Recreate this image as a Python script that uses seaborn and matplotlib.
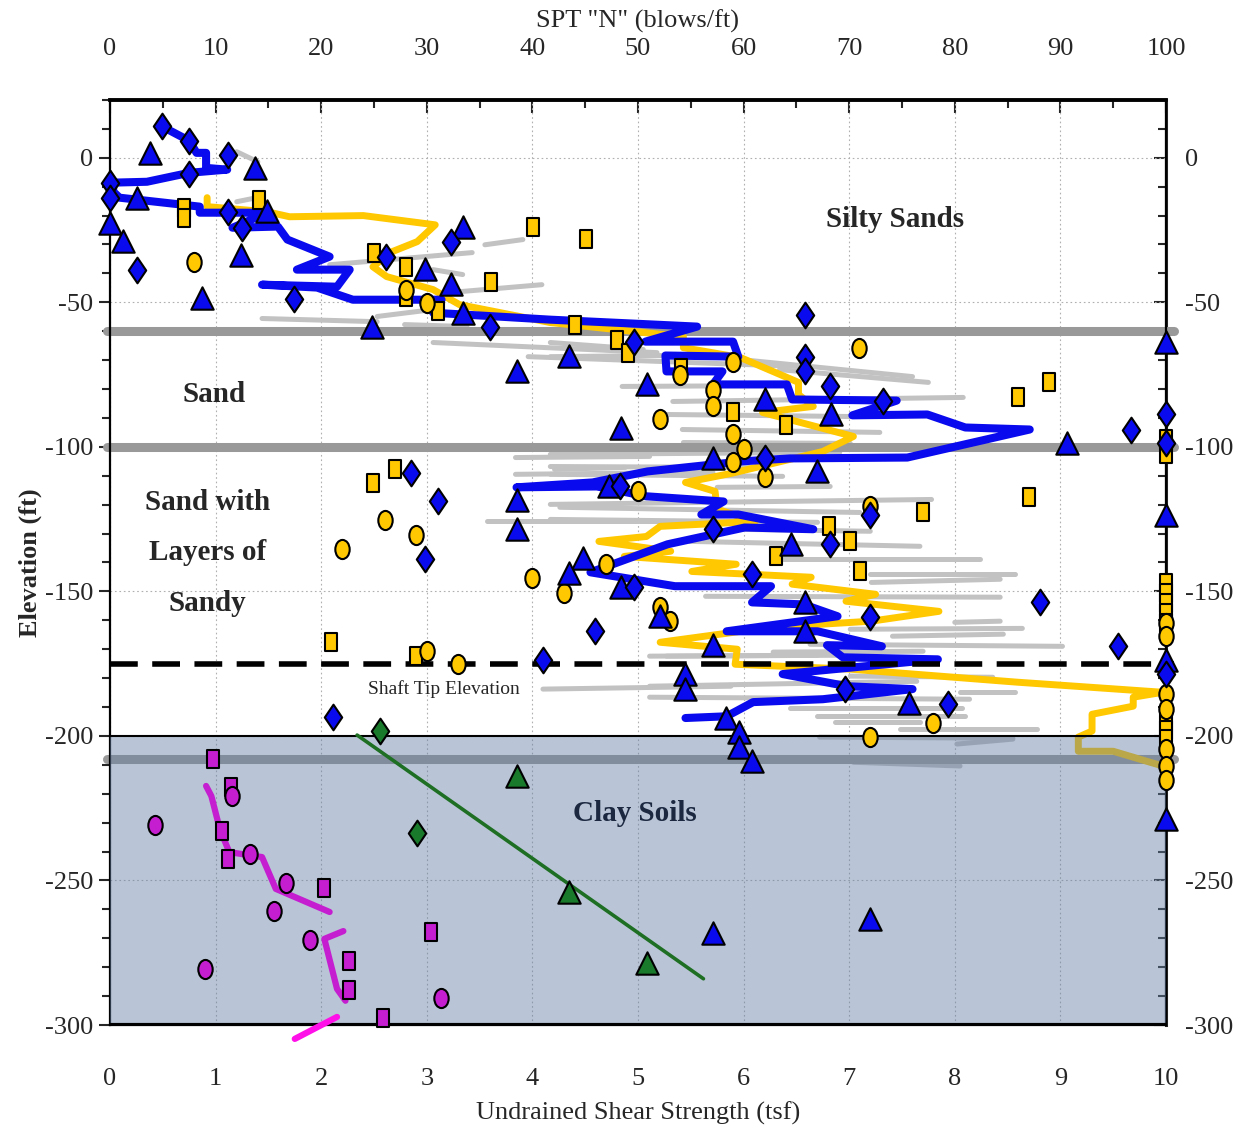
import numpy as np
import pandas as pd
import matplotlib
matplotlib.use("Agg")
import matplotlib.pyplot as plt
import seaborn as sns
from matplotlib.path import Path
from matplotlib.transforms import Affine2D
from matplotlib.ticker import MultipleLocator

# ---------------- data (x: undrained shear strength tsf ; y: elevation ft) -------------
blue_dia_x = [0.49, 0.75, 1.12, 0.75, 0.0, 0.0, 1.12, 1.25, 3.23, 2.61, 0.26, 1.74, 3.60, 6.58, 4.96,
              6.58, 6.58, 6.82, 7.32, 6.20, 2.85, 4.83, 3.11, 7.20, 5.71, 6.82, 2.98, 6.08, 4.96, 8.81,
              7.20, 4.59, 9.55, 4.10, 6.96, 7.94, 2.11, 9.67, 10.0, 10.0, 10.0]
blue_dia_y = [11.1, 5.9, 1.0, -5.5, -8.6, -13.8, -18.7, -24.2, -29.0, -34.2, -38.7, -48.7, -58.7, -54.3, -63.6,
              -68.8, -73.9, -78.8, -84.0, -104.0, -109.2, -113.7, -118.9, -123.7, -128.5, -133.7, -138.9, -144.1, -148.6, -153.8,
              -158.9, -163.8, -169.0, -173.8, -183.8, -189.0, -193.5, -94.0, -88.8, -98.8, -178.6]

blue_tri_x = [0.38, 1.37, 0.26, 1.49, 0.0, 0.12, 1.24, 0.87, 3.34, 2.98, 3.23, 3.34, 2.48, 4.35, 3.85,
              5.09, 6.20, 4.84, 6.83, 5.71, 6.70, 4.73, 3.85, 3.85, 6.45, 4.48, 4.35, 4.84, 6.58, 5.21,
              6.58, 5.71, 5.45, 5.45, 7.57, 5.83, 5.96, 5.96, 6.08, 9.06, 10.0, 10.0, 10.0, 10.0, 5.71, 7.20]
blue_tri_y = [1.7, -3.5, -13.8, -18.3, -22.5, -28.7, -33.5, -48.4, -23.8, -38.4, -43.5, -53.6, -58.4, -68.4, -73.6,
              -78.4, -83.3, -93.6, -88.8, -103.7, -108.5, -113.7, -118.5, -128.5, -133.7, -138.6, -143.7, -148.6, -153.8, -158.6,
              -163.8, -168.6, -178.6, -183.8, -188.7, -193.8, -198.7, -203.9, -208.7, -98.5, -63.6, -123.7, -173.8, -228.7, -268.1, -263.3]

yel_sq_x = [1.41, 0.70, 0.70, 4.01, 4.51, 2.50, 2.80, 3.61, 2.80, 3.11, 4.40, 4.80, 4.91, 5.41, 5.90,
            6.40, 8.60, 8.89, 10.0, 10.0, 2.49, 2.70, 8.70, 7.70, 6.81, 7.01, 6.31, 7.10, 10.0, 10.0,
            10.0, 10.0, 10.0, 2.09, 2.90, 10.0, 10.0, 10.0]
yel_sq_y = [-14.5, -17.3, -20.7, -23.8, -28.0, -32.8, -37.7, -42.8, -48.0, -52.9, -57.7, -62.9, -67.7, -72.6, -87.8,
            -92.6, -82.9, -77.7, -97.4, -102.6, -112.6, -107.5, -117.5, -122.7, -127.5, -132.7, -137.9, -143.1, -147.2, -150.7,
            -154.1, -157.6, -161.0, -167.6, -172.4, -195.0, -198.0, -201.0]

yel_ci_x = [0.80, 2.80, 3.00, 7.09, 5.90, 5.40, 5.71, 5.71, 5.21, 5.90, 6.00, 5.90, 6.20, 5.00, 7.20,
            2.60, 2.90, 2.20, 4.70, 4.00, 4.30, 5.21, 5.30, 3.00, 3.30, 7.79, 7.20, 10.0, 10.0, 10.0,
            10.0, 10.0, 10.0, 10.0]
yel_ci_y = [-35.9, -45.6, -50.4, -65.7, -70.5, -75.3, -80.5, -85.7, -90.5, -95.4, -100.6, -105.4, -110.6, -115.4, -120.6,
            -125.4, -130.6, -135.5, -140.6, -145.5, -150.7, -155.5, -160.3, -170.7, -175.2, -195.6, -200.4, -161.0, -165.5, -185.6,
            -190.7, -204.6, -210.4, -215.3]

mag_sq_x = [0.98, 1.15, 1.06, 1.12, 2.03, 3.04, 2.26, 2.26, 2.59]
mag_sq_y = [-208.0, -217.7, -232.9, -242.6, -252.6, -267.8, -277.8, -287.8, -297.5]
mag_ci_x = [0.43, 1.16, 1.33, 1.67, 1.55, 1.89, 0.90, 3.13]
mag_ci_y = [-230.8, -220.8, -240.8, -250.9, -260.5, -270.6, -280.6, -290.6]

grn_tri_x = [3.85, 4.35, 5.09]
grn_tri_y = [-213.9, -254.0, -278.5]
grn_dia_x = [2.56, 2.91]
grn_dia_y = [-198.3, -233.6]

blue_line_x = [0.50, 0.75, 0.82, 0.91, 0.91, 1.11, 0.75, 0.35, 0.03, 0.03, 0.09, 0.26, 0.85, 0.85, 1.49,
               1.16, 1.59, 1.68, 2.08, 1.77, 2.27, 2.15, 1.44, 1.96, 2.30, 3.14, 3.06, 4.17, 5.56, 5.07,
               5.90, 5.95, 5.26, 5.27, 5.80, 5.71, 6.41, 6.46, 7.45, 7.03, 7.74, 8.10, 8.71, 7.55, 6.44,
               5.99, 5.09, 4.57, 3.85, 4.61, 5.08, 5.81, 5.60, 5.95, 6.66, 6.01, 5.28, 4.55, 5.35, 6.26,
               6.08, 6.57, 6.89, 5.84, 6.70, 7.31, 6.79, 6.94, 7.84, 6.37, 6.98, 7.60, 6.75, 6.09, 5.84, 5.45]
blue_line_y = [10.7, 5.9, 1.7, 1.7, -3.5, -4.1, -5.2, -8.3, -8.6, -11.7, -13.8, -14.5, -16.9, -19.0, -19.0,
               -24.2, -23.8, -28.3, -34.2, -38.7, -38.7, -44.6, -43.9, -44.9, -49.1, -49.1, -53.6, -56.0, -58.4, -63.6,
               -63.6, -68.8, -68.4, -73.9, -73.9, -78.4, -78.4, -83.6, -84.0, -89.1, -88.8, -93.3, -94.0, -103.7, -104.0,
               -105.0, -108.5, -112.3, -114.0, -113.7, -117.1, -118.9, -123.4, -123.4, -128.5, -127.9, -133.7, -143.4, -148.2, -148.2,
               -153.8, -154.5, -158.6, -163.8, -163.8, -169.0, -168.6, -172.8, -173.5, -178.6, -182.8, -183.8, -187.3, -188.3, -193.2, -193.8]

yel_line_x = [0.92, 0.92, 1.49, 1.70, 2.40, 3.08, 2.91, 2.65, 2.49, 2.62, 3.06, 3.31, 4.17, 5.43, 5.43,
              5.97, 6.52, 6.52, 6.66, 6.18, 7.04, 6.75, 5.88, 5.45, 5.73, 5.75, 6.11, 5.21, 5.08, 4.63,
              5.31, 4.87, 5.93, 5.51, 6.64, 6.46, 7.25, 6.97, 7.85, 7.21, 6.26, 5.21, 5.94, 5.92, 7.01,
              8.59, 9.97, 9.69, 9.69, 9.30, 9.30, 9.17, 9.17, 9.50, 9.97]
yel_line_y = [-13.8, -16.9, -18.7, -20.4, -20.0, -23.2, -29.0, -32.8, -37.7, -41.1, -45.6, -50.8, -57.0, -61.9, -65.7,
              -69.1, -77.7, -81.9, -86.0, -88.1, -96.4, -101.6, -109.2, -112.3, -115.4, -121.6, -125.8, -127.5, -131.0, -132.7,
              -136.1, -137.9, -140.6, -143.1, -145.1, -147.5, -151.0, -153.4, -156.9, -160.3, -162.4, -167.6, -170.0, -175.2, -176.9,
              -181.4, -184.9, -186.6, -189.7, -192.5, -198.3, -200.4, -205.3, -205.3, -210.4]

mag_line1_x = [0.91, 0.96, 1.04, 1.13, 1.44, 1.57, 2.08]
mag_line1_y = [-217.3, -220.8, -232.2, -240.2, -241.9, -252.9, -260.9]
mag_line2_x = [2.21, 2.03, 2.15, 2.23]
mag_line2_y = [-267.5, -270.2, -287.5, -291.6]
mag_line3_x = [2.15, 1.75]
mag_line3_y = [-297.2, -304.8]

grn_line_x = [2.34, 5.62]
grn_line_y = [-199.7, -284.0]

# grey profile segments (start x, start y, end x, end y)
gray_x0 = [1.20, 1.20, 2.08, 3.55, 3.06, 3.22, 1.44, 2.53, 2.79, 3.06, 3.96, 4.17, 4.17, 5.97, 4.85,
           6.34, 5.33, 5.27, 5.42, 5.43, 4.17, 4.17, 4.17, 5.75, 4.17, 4.26, 4.17, 5.90, 5.49, 6.37,
           3.84, 3.84, 3.57, 4.21, 5.64, 5.27, 7.21, 8.00, 4.10, 7.01, 7.41, 6.63, 6.28, 5.11, 7.01,
           5.11, 8.05, 5.11, 6.44, 6.70, 6.87, 7.48, 6.72, 8.02, 7.04, 7.20]
gray_y0 = [2.1, -15.2, -37.0, -30.1, -38.7, -46.6, -55.6, -54.9, -57.7, -63.9, -68.8, -63.9, -68.8, -69.8, -79.1,
           -73.3, -84.3, -88.8, -94.0, -98.5, -102.6, -106.8, -109.5, -114.0, -119.9, -120.9, -125.1, -128.5, -132.7, -138.9,
           -103.7, -109.5, -125.8, -107.8, -151.7, -172.4, -146.9, -160.7, -183.8, -163.1, -165.5, -168.3, -171.0, -172.4, -179.3,
           -182.8, -184.9, -186.6, -190.4, -193.2, -195.2, -197.6, -200.4, -202.8, -209.1, -144.1]
gray_x1 = [1.40, 1.39, 3.43, 3.91, 3.34, 4.09, 2.53, 3.06, 3.38, 5.18, 6.53, 5.05, 5.27, 7.60, 6.37,
           7.75, 8.08, 7.01, 7.29, 7.01, 6.91, 6.06, 6.37, 6.82, 7.78, 7.10, 6.70, 7.20, 7.67, 8.24,
           5.11, 5.71, 5.55, 4.88, 8.43, 6.88, 8.43, 8.43, 5.88, 8.64, 8.46, 9.02, 7.70, 6.70, 8.36,
           7.64, 8.57, 8.14, 8.07, 8.10, 7.67, 8.78, 8.55, 8.55, 8.05, 8.57]
gray_y1 = [-1.4, -13.8, -32.8, -28.3, -40.4, -43.9, -56.7, -52.5, -58.4, -67.4, -72.2, -66.3, -68.4, -75.7, -78.8,
           -77.7, -82.9, -89.5, -95.0, -98.8, -101.9, -107.1, -110.2, -113.7, -118.2, -122.7, -126.1, -129.2, -134.4, -138.9,
           -103.3, -108.8, -125.8, -107.1, -152.0, -172.1, -145.8, -160.3, -182.8, -162.8, -164.8, -169.0, -170.7, -172.1, -179.7,
           -181.1, -184.9, -187.3, -190.4, -193.2, -195.2, -197.6, -200.8, -201.1, -210.4, -144.1]

layer_lines = [-60, -100]
clay_gray_line = -208
shaft_tip = -175
clay_top, clay_bot = -200, -300

x_ticks = list(range(0, 11))
spt_ticks = list(range(0, 101, 10))
elev_ticks = [0, -50, -100, -150, -200, -250, -300]

# ---------------- styling ----------------
sns.set_style("white")
plt.rcParams["font.family"] = ["Liberation Serif", "DejaVu Serif"]
plt.rcParams["axes.unicode_minus"] = False

BLUE = "#0a0aee"
YEL = "#ffc800"
MAG = "#c41ed0"
GRN = "#1a7a2c"

diamond = Path([(0, 1), (0.68, 0), (0, -1), (-0.68, 0), (0, 1)],
               [Path.MOVETO, Path.LINETO, Path.LINETO, Path.LINETO, Path.CLOSEPOLY])
rect = Path([(-0.7, -1), (0.7, -1), (0.7, 1), (-0.7, 1), (-0.7, -1)],
            [Path.MOVETO, Path.LINETO, Path.LINETO, Path.LINETO, Path.CLOSEPOLY])
ellipse = Path.unit_circle().transformed(Affine2D().scale(0.75, 1.0))

fig = plt.figure(figsize=(12.4, 11.32), dpi=100)
ax = fig.add_axes([0.0887, 0.0945, 0.8516, 0.8172])
ax.set_xlim(0, 10)
ax.set_ylim(-300, 20)
ax.set_axisbelow(True)
ax.grid(True, which="major", linestyle=(0, (1.5, 2.5)), color="#b0b0b0", lw=0.8)

# grey profiles
seg_id, sx, sy = [], [], []
for i in range(len(gray_x0)):
    seg_id += [i, i]
    sx += [gray_x0[i], gray_x1[i]]
    sy += [gray_y0[i], gray_y1[i]]
gray_df = pd.DataFrame({"seg": seg_id, "x": sx, "y": sy})
sns.lineplot(data=gray_df, x="x", y="y", units="seg", estimator=None, sort=False,
             color="#c2c2c2", lw=3.6, ax=ax, zorder=1)

for yv in layer_lines:
    ax.axhline(yv, xmin=-0.003, xmax=1.008, color="#999999", lw=6.5, zorder=1.5, clip_on=False)
ax.axhline(clay_gray_line, xmin=-0.003, xmax=1.008, color="#999999", lw=6.5, zorder=1.5, clip_on=False)

sns.lineplot(x=yel_line_x, y=yel_line_y, sort=False, estimator=None, color=YEL, lw=5.0, ax=ax, zorder=2)
sns.lineplot(x=blue_line_x, y=blue_line_y, sort=False, estimator=None, color=BLUE, lw=5.8, ax=ax, zorder=2.2)

ax.axhline(shaft_tip, xmin=0, xmax=1.008, color="black", lw=4, ls=(0, (5, 2.6)), zorder=2.5, clip_on=False)

# clay soils box
ax.axhspan(clay_bot, clay_top, color=(100/255, 127/255, 164/255), alpha=0.45, zorder=3, lw=0)
ax.axhline(clay_top, color="black", lw=1.5, zorder=3.1)
ax.axhline(clay_bot, color="black", lw=3.0, zorder=3.1)

sns.lineplot(x=mag_line1_x, y=mag_line1_y, sort=False, estimator=None, color=MAG, lw=4.5, ax=ax, zorder=3.5)
sns.lineplot(x=mag_line2_x, y=mag_line2_y, sort=False, estimator=None, color=MAG, lw=4.5, ax=ax, zorder=3.5)
sns.lineplot(x=mag_line3_x, y=mag_line3_y, sort=False, estimator=None, color="#ff10e8", lw=4.5, ax=ax, zorder=3.5)
ax.lines[-1].set_clip_on(False)
sns.lineplot(x=grn_line_x, y=grn_line_y, sort=False, estimator=None, color="#1e6e23", lw=2.6, ax=ax, zorder=3.5)

mk = dict(edgecolor="black", linewidth=1.5, ax=ax, zorder=4, clip_on=False, legend=False)
sns.scatterplot(x=yel_sq_x, y=yel_sq_y, marker=rect, s=150, color=YEL, **mk)
sns.scatterplot(x=yel_ci_x, y=yel_ci_y, marker=ellipse, s=190, color=YEL, **mk)
sns.scatterplot(x=blue_tri_x, y=blue_tri_y, marker="^", s=260, color=BLUE, **mk)
sns.scatterplot(x=blue_dia_x, y=blue_dia_y, marker=diamond, s=340, color=BLUE, **mk)
sns.scatterplot(x=mag_sq_x, y=mag_sq_y, marker=rect, s=150, color=MAG, **mk)
sns.scatterplot(x=mag_ci_x, y=mag_ci_y, marker=ellipse, s=190, color=MAG, **mk)
sns.scatterplot(x=grn_tri_x, y=grn_tri_y, marker="^", s=260, color=GRN, **mk)
sns.scatterplot(x=grn_dia_x, y=grn_dia_y, marker=diamond, s=340, color=GRN, **mk)

# annotations
ax.text(7.43, -21.4, "Silty Sands", fontsize=21, fontweight="bold", ha="center", va="center", zorder=5)
ax.text(0.99, -81.9, "Sand", fontsize=21, fontweight="bold", ha="center", va="center", zorder=5)
ax.text(0.92, -119.2, "Sand with", fontsize=21, fontweight="bold", ha="center", va="center", zorder=5)
ax.text(0.92, -136.5, "Layers of", fontsize=21, fontweight="bold", ha="center", va="center", zorder=5)
ax.text(0.92, -154.1, "Sandy", fontsize=21, fontweight="bold", ha="center", va="center", zorder=5)
ax.text(3.16, -183.8, "Shaft Tip Elevation", fontsize=14, ha="center", va="center", zorder=5)
ax.text(4.97, -227.0, "Clay Soils", fontsize=21, fontweight="bold", color="#1c2840",
        ha="center", va="center", zorder=5)

# axes / ticks
ax.set_xticks(x_ticks)
ax.xaxis.set_minor_locator(MultipleLocator(0.5))
ax.set_yticks(elev_ticks)
ax.yaxis.set_minor_locator(MultipleLocator(10))
ax.tick_params(axis="x", which="both", direction="in", labelsize=19, pad=31, width=1.5)
ax.tick_params(axis="x", which="major", length=9)
ax.tick_params(axis="x", which="minor", length=6)
ax.tick_params(axis="y", which="both", direction="out", labelsize=19, pad=4, width=1.5, left=True)
ax.tick_params(axis="y", which="major", length=8)
ax.tick_params(axis="y", which="minor", length=6)
ax.set_xlabel("Undrained Shear Strength (tsf)", fontsize=19, labelpad=8)
ax.set_ylabel("Elevation (ft)", fontsize=19, fontweight="bold", labelpad=2)
for sp in ax.spines.values():
    sp.set_linewidth(1.6)
    sp.set_color("black")
ax.spines["top"].set_linewidth(2.6)

top = ax.secondary_xaxis("top", functions=(lambda v: v * 10, lambda v: v / 10))
top.set_xticks(spt_ticks)
top.xaxis.set_minor_locator(MultipleLocator(5))
top.tick_params(axis="x", which="both", direction="in", labelsize=19, pad=29, width=1.5)
top.tick_params(axis="x", which="major", length=9)
top.tick_params(axis="x", which="minor", length=6)
top.set_xlabel('SPT "N" (blows/ft)', fontsize=19, labelpad=7)
top.spines["top"].set_linewidth(2.6)

right = ax.secondary_yaxis("right")
right.set_yticks(elev_ticks)
right.yaxis.set_minor_locator(MultipleLocator(10))
right.tick_params(axis="y", which="both", direction="in", labelsize=19, pad=14, width=1.5)
right.tick_params(axis="y", which="major", length=9)
right.tick_params(axis="y", which="minor", length=6)
right.spines["right"].set_linewidth(2.2)

fig.savefig("out.png", dpi=100)
